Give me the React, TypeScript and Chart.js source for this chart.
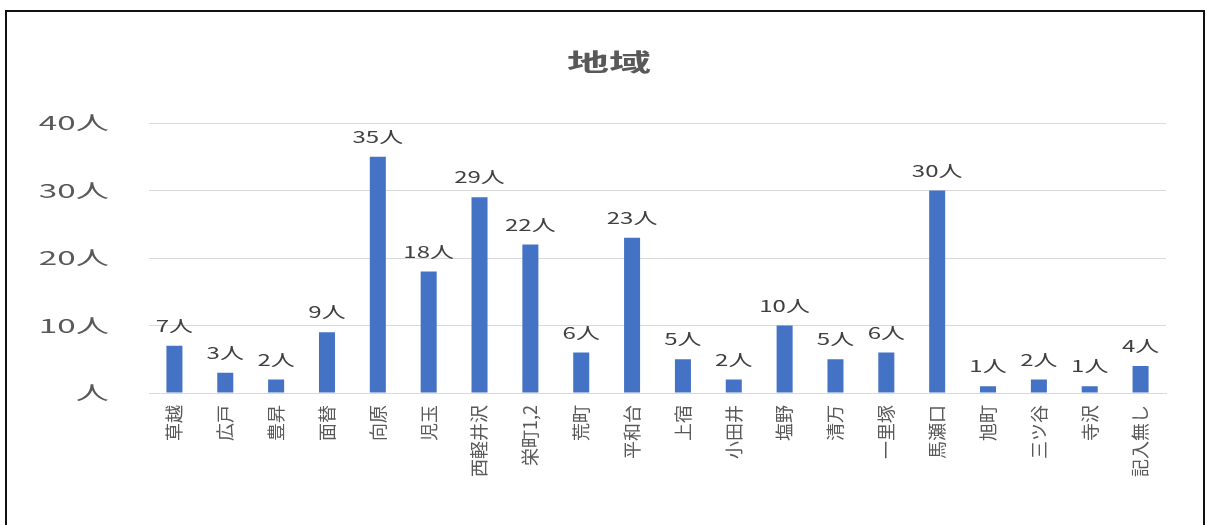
import React, { useEffect, useRef } from "react";
import { Chart, registerables } from "chart.js";

Chart.register(...registerables);

const titleText = "地域";
const categories = [
  "草越", "広戸", "豊昇", "面替", "向原", "児玉", "西軽井沢", "栄町1,2", "荒町", "平和台",
  "上宿", "小田井", "塩野", "清万", "一里塚", "馬瀬口", "旭町", "三ツ谷", "寺沢", "記入無し",
];
const counts = [7, 3, 2, 9, 35, 18, 29, 22, 6, 23, 5, 2, 10, 5, 6, 30, 1, 2, 1, 4];
const yTicks = [0, 10, 20, 30, 40];
const unit = "人";

const FONT = "'Noto Sans CJK JP', 'Noto Sans', sans-serif";

const overlayPlugin = {
  id: "overlayText",
  afterDatasetsDraw(chart: any) {
    const ctx = chart.ctx;
    const meta = chart.getDatasetMeta(0);
    ctx.save();
    ctx.fillStyle = "#404040";
    ctx.font = `16px ${FONT}`;
    ctx.textAlign = "center";
    ctx.textBaseline = "alphabetic";
    meta.data.forEach((el: any, i: number) => {
      ctx.save();
      ctx.translate(el.x, el.y - 14);
      ctx.scale(1.5, 1);
      ctx.fillText(`${counts[i]}${unit}`, 0, 0);
      ctx.restore();
    });
    ctx.restore();
  },
  afterDraw(chart: any) {
    const ctx = chart.ctx;
    // y-axis tick labels (from the library's scale), drawn with the wide look of the original
    const ys = chart.scales.y;
    ctx.save();
    ctx.fillStyle = "#595959";
    ctx.font = `19px ${FONT}`;
    ctx.textAlign = "right";
    ctx.textBaseline = "middle";
    ys.ticks.forEach((t: any) => {
      const py = ys.getPixelForValue(t.value);
      ctx.save();
      ctx.translate(chart.chartArea.left - 40, py);
      ctx.scale(1.75, 1);
      ctx.fillText(String(t.label), 0, 0);
      ctx.restore();
    });
    ctx.restore();

    ctx.save();
    ctx.fillStyle = "#595959";
    ctx.font = `bold 24px ${FONT}`;
    ctx.textAlign = "center";
    ctx.textBaseline = "middle";
    ctx.translate(609, 62);
    ctx.scale(1.75, 1);
    ctx.fillText(titleText, 0, 0);
    ctx.restore();
  },
};

export default function App() {
  const canvasRef = useRef<HTMLCanvasElement | null>(null);

  useEffect(() => {
    if (!canvasRef.current) return;
    const chart = new Chart(canvasRef.current, {
      type: "bar",
      data: {
        labels: categories,
        datasets: [
          {
            data: counts,
            backgroundColor: "#4472C4",
            borderWidth: 0,
            categoryPercentage: 1,
            barPercentage: 0.315,
          },
        ],
      },
      options: {
        responsive: false,
        animation: false,
        layout: { padding: { top: 123, right: 41, left: 0, bottom: 0 } },
        plugins: {
          legend: { display: false },
          title: { display: false },
          tooltip: { enabled: false },
        },
        scales: {
          x: {
            grid: { display: false, drawTicks: false },
            border: { display: true, color: "#d9d9d9", width: 1 },
            ticks: {
              autoSkip: false,
              minRotation: 90,
              maxRotation: 90,
              padding: 12,
              color: "#595959",
              font: { family: FONT, size: 18 },
            },
            afterFit(scale: any) {
              scale.height = 132;
            },
          },
          y: {
            min: 0,
            max: 40,
            afterBuildTicks(scale: any) {
              scale.ticks = yTicks.map((v) => ({ value: v }));
            },
            grid: { color: "#d9d9d9", lineWidth: 1, drawTicks: false },
            border: { display: false },
            ticks: {
              padding: 40,
              color: "rgba(0,0,0,0)",
              font: { family: FONT, size: 19 },
              callback: (v: any) => (Number(v) === 0 ? unit : `${v}${unit}`),
            },
            afterFit(scale: any) {
              scale.width = 149;
            },
          },
        },
      },
      plugins: [overlayPlugin],
    });
    return () => chart.destroy();
  }, []);

  return (
    <div
      style={{
        position: "fixed",
        left: 0,
        top: 0,
        width: 1207,
        height: 525,
        overflow: "hidden",
        background: "#fff",
      }}
    >
      <div
        style={{
          position: "absolute",
          left: 5,
          top: 10,
          width: 1196,
          height: 560,
          border: "2px solid #111",
        }}
      />
      <canvas
        ref={canvasRef}
        width={1207}
        height={525}
        style={{ position: "absolute", left: 0, top: 0 }}
      />
    </div>
  );
}
